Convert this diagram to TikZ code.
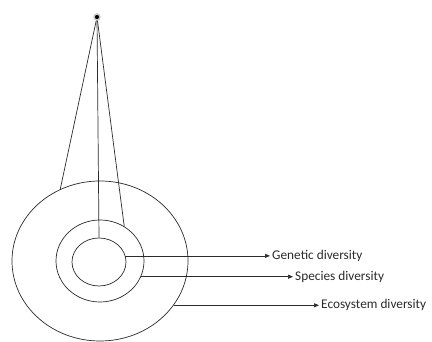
\documentclass[tikz,border=0pt]{standalone}
\usepackage{fontspec}
\setmainfont{Carlito}
\usepackage{xcolor}
\definecolor{ink}{HTML}{2B2B2B}
\usepackage{tikz}
\usetikzlibrary{shapes.geometric,arrows.meta,positioning}

\begin{document}
\begin{tikzpicture}[x=1pt, y=1pt,
  ring/.style={ellipse, draw=ink, line width=0.7pt, inner sep=0pt},
  link/.style={draw=ink, line width=0.7pt},
  lab/.style={anchor=west, font=\fontsize{13.3}{15}\selectfont, text=ink, inner sep=2pt},
  pointer/.style={-{Triangle[length=5pt, width=4pt]}, ink, line width=0.7pt}]

  \useasboundingbox (0,0) rectangle (432,342);

  % nested levels
  \node[ring, minimum width=176pt, minimum height=160pt] (eco) at (100,81) {};
  \node[ring, minimum width=88pt, minimum height=82pt] (spec) at (100,81) {};
  \node[ring, minimum width=54pt, minimum height=48pt] (gen) at (99,80) {};

  % apex point
  \node[circle, fill=black, draw=gray!40, line width=1.5pt, minimum size=6pt, inner sep=0pt] (apex) at (97,325) {};

  \draw[link] (apex) -- (eco.119);
  \draw[link] (apex) -- (gen.north);
  \draw[link] (apex) -- (spec.55);

  % labels on the right
  \node[lab] (genlab) at (270,86) {Genetic diversity};
  \node[lab] (speclab) at (293,65) {Species diversity};
  \node[lab] (ecolab) at (319,37) {Ecosystem diversity};

  \foreach \a/\b in {gen.13/genlab, spec.-21/speclab, eco.-31/ecolab}
    \draw[pointer] (\a) -- (\a -| \b.west);
\end{tikzpicture}
\end{document}
